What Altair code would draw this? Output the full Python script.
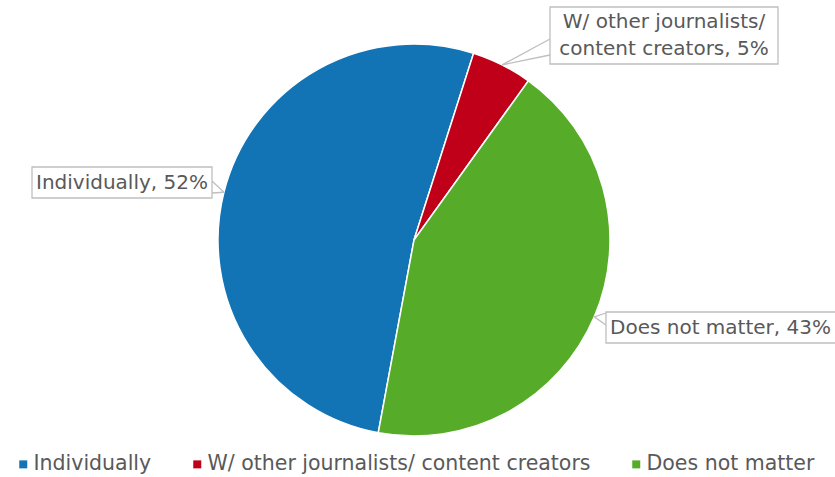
import altair as alt
import pandas as pd
import numpy as np

# ---- data ----
categories = ["Individually", "W/ other journalists/ content creators", "Does not matter"]
values = [52, 5, 43]
label_lines = [["Individually, 52%"], ["W/ other journalists/", "content creators, 5%"], ["Does not matter, 43%"]]
colors = ["#1273B5", "#C00018", "#56AC28"]

# ---- layout (pixels) ----
W, H = 835, 477
CX, CY, R = 414, 240, 196
START_DEG = 190.5
FONT = "DejaVu Sans"
TXT = "#595959"
BOX = "#BFBFBF"
LINE_H = 27
# label boxes: x0, y0, x1, y1
boxes = [(32, 167, 212, 198), (550, 7, 778, 64), (606, 312, 842, 343)]
# pointer base points on the box edge (two per label)
bases = [((212, 181), (212, 193)), ((550, 39), (550, 55)), ((606, 313), (606, 325))]

df = pd.DataFrame({"cat": categories, "value": values, "order": list(range(len(values)))})

frac = np.array(values, dtype=float) / sum(values)
cum = np.concatenate([[0.0], np.cumsum(frac)])
mid = np.radians(START_DEG + 360 * (cum[:-1] + cum[1:]) / 2)
tipx = CX + R * np.sin(mid)
tipy = CY - R * np.cos(mid)

start = np.radians(START_DEG)
pie = alt.Chart(df).mark_arc(radius=R, stroke="white", strokeWidth=1.5).encode(
    theta=alt.Theta("value:Q", stack=True, scale=alt.Scale(domain=[0, sum(values)], range=[start, start + 2 * np.pi])),
    color=alt.Color(
        "cat:N",
        sort=categories,
        scale=alt.Scale(domain=categories, range=colors),
        legend=alt.Legend(
            orient="none", legendX=13, legendY=454, direction="horizontal", title=None,
            symbolType="square", symbolSize=64, symbolStrokeWidth=0, labelFontSize=20.5,
            labelFont=FONT, labelColor=TXT, columnPadding=35, labelLimit=600, labelOffset=0,
        ),
    ),
    order=alt.Order("order:Q"),
    x=alt.value(CX),
    y=alt.value(CY),
)

seg_rows = []
for i, (b1, b2) in enumerate(bases):
    for b in (b1, b2):
        seg_rows.append({"x": b[0], "y": b[1], "x2": float(tipx[i]), "y2": float(tipy[i])})
seg_df = pd.DataFrame(seg_rows)

rules = alt.Chart(seg_df).mark_rule(color=BOX, strokeWidth=1.3).encode(
    x=alt.X("x:Q", scale=None), y=alt.Y("y:Q", scale=None),
    x2="x2:Q", y2="y2:Q",
)

box_df = pd.DataFrame({
    "x0": [b[0] for b in boxes], "y0": [b[1] for b in boxes],
    "x1": [b[2] for b in boxes], "y1": [b[3] for b in boxes],
})

rects = alt.Chart(box_df).mark_rect(fill="white", stroke=BOX, strokeWidth=1.3).encode(
    x=alt.X("x0:Q", scale=None), x2="x1:Q",
    y=alt.Y("y0:Q", scale=None), y2="y1:Q",
)

text_rows = []
for b, lines in zip(boxes, label_lines):
    cx = (b[0] + min(b[2], W)) / 2
    cy = (b[1] + b[3]) / 2
    n = len(lines)
    for j, line in enumerate(lines):
        text_rows.append({"tx": cx, "ty": cy + (j - (n - 1) / 2) * LINE_H, "label": line})
text_df = pd.DataFrame(text_rows)

texts = alt.Chart(text_df).mark_text(
    font=FONT, fontSize=20, color=TXT, align="center", baseline="middle"
).encode(
    x=alt.X("tx:Q", scale=None), y=alt.Y("ty:Q", scale=None), text="label:N",
)

chart = alt.layer(pie, rules, rects, texts).properties(
    width=W, height=H, padding=0, autosize=alt.AutoSizeParams(type="none")
).configure_view(stroke=None)

chart.save("out.html", embed_options={"renderer": "svg", "actions": False})
